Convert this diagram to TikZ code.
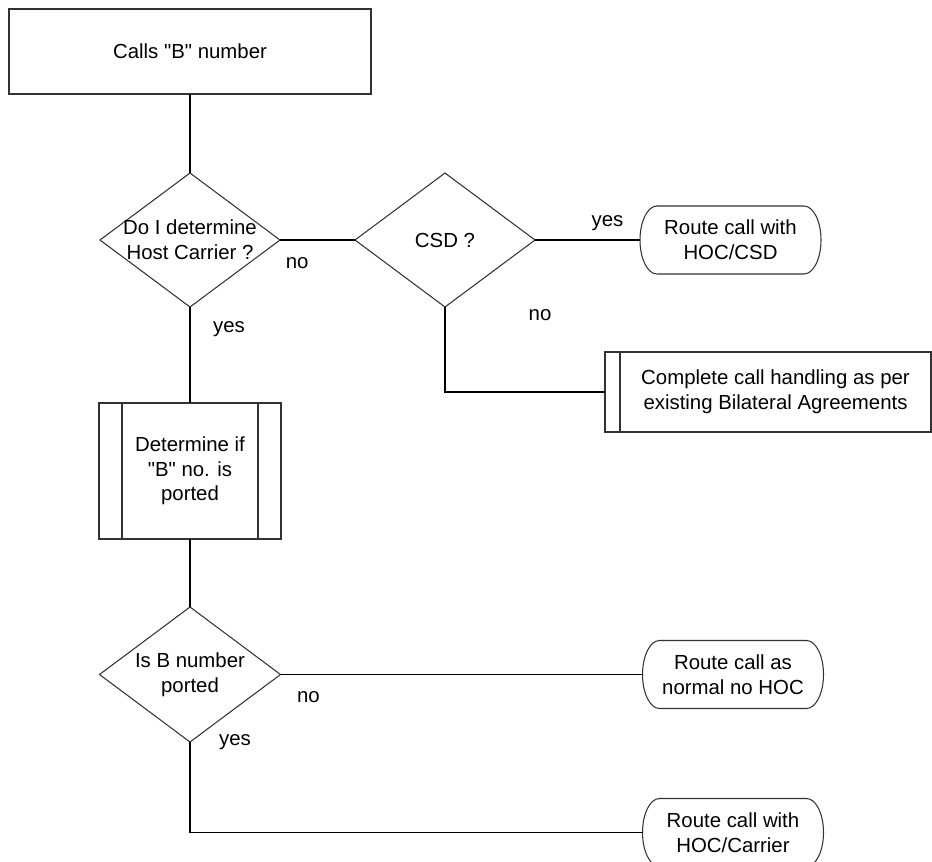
\documentclass[tikz,border=0pt]{standalone}
\usepackage{fontspec}
\setmainfont{Liberation Sans}[Ligatures=TeXOff]
\usetikzlibrary{positioning, shapes.geometric}

\begin{document}
\begin{tikzpicture}[
  font=\fontsize{11.6}{14}\selectfont,
  startbox/.style={
    rectangle,
    draw=black!80,
    line width=0.6pt,
    align=center,
    minimum width=7.24cm,
    minimum height=1.7cm,
    inner sep=0pt,
    outer sep=0pt
  },
  decision/.style={
    diamond,
    draw=black!80,
    line width=0.6pt,
    minimum width=3.6cm,
    minimum height=2.68cm,
    inner sep=0pt,
    outer sep=0pt
  },
  inside/.style={align=center, inner sep=0pt},
  procbox/.style={
    rectangle,
    draw=black!80,
    line width=0.6pt,
    align=center,
    inner sep=0pt,
    outer sep=0pt,
    path picture={
      \draw[black!80, line width=0.6pt] ([xshift=#1]path picture bounding box.north west) -- ([xshift=#1]path picture bounding box.south west);
      \draw[black!80, line width=0.6pt] ([xshift=-#1]path picture bounding box.north east) -- ([xshift=-#1]path picture bounding box.south east);
    }
  },
  % rectangle node, outline drawn with elliptic ends
  terminal/.style={
    rectangle,
    align=center,
    minimum width=3.62cm,
    minimum height=1.36cm,
    inner sep=0pt,
    outer sep=0pt,
    append after command={\pgfextra{
      \draw[black!80, line width=0.6pt]
        ([xshift=0.34cm]\tikzlastnode.north west) -- ([xshift=-0.34cm]\tikzlastnode.north east)
        arc[start angle=90, end angle=-90, x radius=0.34cm, y radius=0.68cm]
        -- ([xshift=0.34cm]\tikzlastnode.south west)
        arc[start angle=270, end angle=90, x radius=0.34cm, y radius=0.68cm] -- cycle;
    }}
  },
  link/.style={line width=1pt, draw=black},
  answer/.style={inner sep=0pt}
]

\useasboundingbox (0,0) rectangle (18.64,-17.22);

\node[startbox] (start) at (3.8,-1.03) {Calls "B" number};
\node[decision, below=1.58cm of start] (host) {};
\node[inside] (hosttext) at (host) {Do I determine\\Host Carrier ?};
\node[decision, right=1.5cm of host] (csd) {CSD ?};
\node[terminal, right=2.1cm of csd] (hoccsd) {Route call with\\HOC/CSD};
\node[procbox=0.3cm, minimum width=6.82cm, minimum height=1.6cm, right=3.2cm of csd.south, yshift=-1.7cm] (bilateral) {Complete call handling as per\\existing Bilateral Agreements};

\node[procbox=0.46cm, minimum width=3.64cm, minimum height=2.72cm, below=1.92cm of host] (determine) {Determine if\\"B" no. is\\ported};
\node[decision, minimum width=3.62cm, minimum height=2.7cm, below=1.36cm of determine] (ported) {};
\node[inside] (portedtext) at (ported) {Is B number\\ported};
\node[terminal, right=7.24cm of ported] (normal) {Route call as\\normal no HOC};
\node[terminal, below=1.8cm of normal] (carrier) {Route call with\\HOC/Carrier};

\draw[link] (start) -- (host);
\draw[link] (host) -- node[answer, pos=0.23, yshift=-0.46cm] (hostno) {no} (csd);
\draw[link] (csd) -- node[answer, pos=0.69, yshift=0.34cm] (csdyes) {yes} (hoccsd);
\draw[link] (csd) |- node[answer, pos=0, xshift=1.9cm, yshift=-0.16cm] (csdno) {no} (bilateral);
\draw[link] (host) -- node[answer, pos=0.23, xshift=0.78cm] (hostyes) {yes} (determine);
\draw[link] (determine) -- (ported);
\draw[link] (ported) -- node[answer, pos=0.077, yshift=-0.46cm] (portedno) {no} (normal);
\draw[link] (ported) |- node[answer, pos=0, xshift=0.9cm] (portedyes) {yes} (carrier);

\end{tikzpicture}
\end{document}
